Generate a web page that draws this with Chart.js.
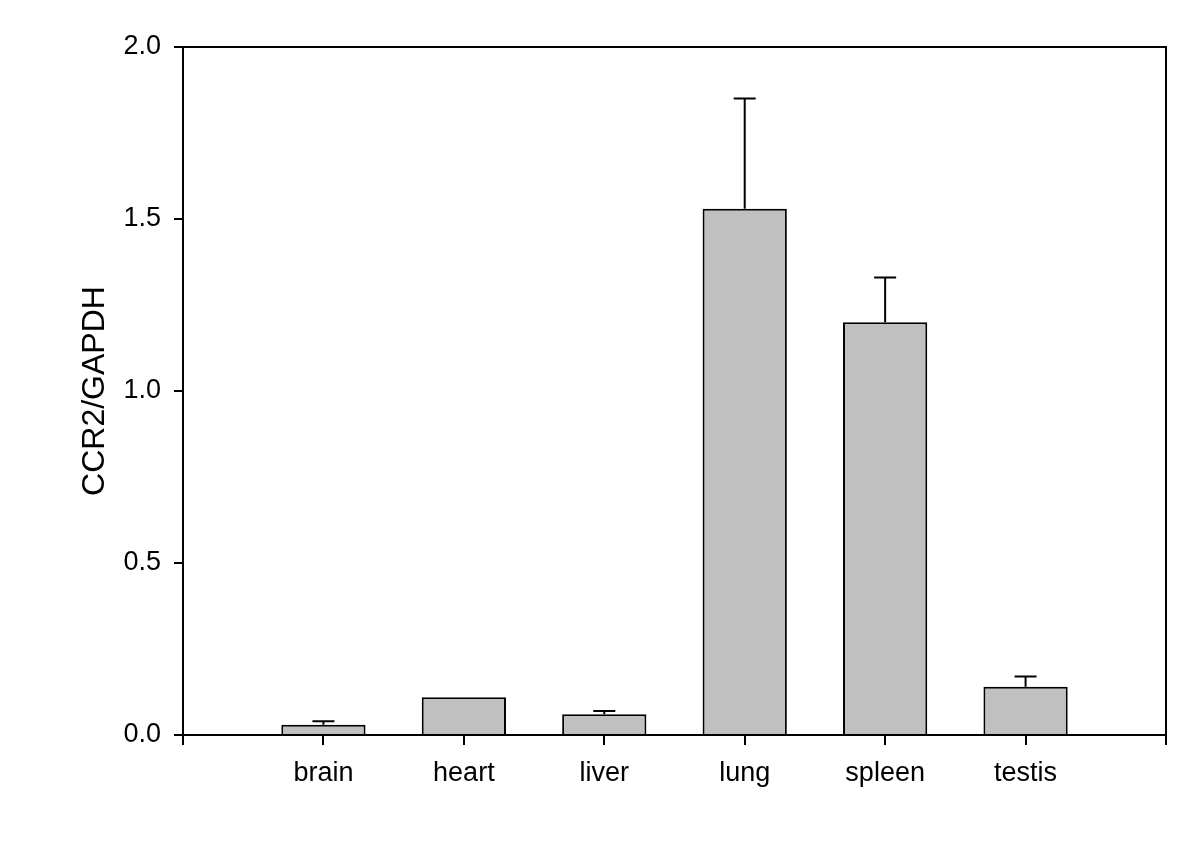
<!DOCTYPE html>
<html>
<head>
<meta charset="utf-8">
<script src="https://cdn.jsdelivr.net/npm/chart.js@4/dist/chart.umd.min.js"></script>
<style>
  html, body { margin: 0; padding: 0; background: #fff; }
  #wrap { width: 1200px; height: 867px; }
</style>
</head>
<body>
<div id="wrap"><canvas id="chart" width="1200" height="867"></canvas></div>
<script>
const tissues = ['brain', 'heart', 'liver', 'lung', 'spleen', 'testis'];
const ratio = [0.03, 0.11, 0.06, 1.53, 1.20, 0.14];
const errUpper = [0.04, null, 0.07, 1.85, 1.33, 0.17];
const yTicks = [0, 0.5, 1.0, 1.5, 2.0];

// empty slots at both ends so the bars sit between the frame edges
const labels = [''].concat(tissues, ['']);
const values = [null].concat(ratio, [null]);
const errors = [null].concat(errUpper, [null]);

const errorBars = {
    id: 'errorBars',
    afterDatasetsDraw(chart) {
        const ctx = chart.ctx;
        const y = chart.scales.y;
        const meta = chart.getDatasetMeta(0);
        ctx.save();
        ctx.strokeStyle = '#000';
        ctx.lineWidth = 2;
        meta.data.forEach((bar, i) => {
            if (errors[i] == null || values[i] == null) return;
            const top = y.getPixelForValue(errors[i]);
            ctx.beginPath();
            ctx.moveTo(bar.x, bar.y);
            ctx.lineTo(bar.x, top);
            ctx.moveTo(bar.x - 11, top);
            ctx.lineTo(bar.x + 11, top);
            ctx.stroke();
        });
        ctx.restore();
    },
    afterDraw(chart) {
        const {ctx, chartArea: a} = chart;
        ctx.save();
        ctx.strokeStyle = '#000';
        ctx.lineWidth = 2;
        ctx.beginPath();
        ctx.moveTo(a.left, a.top);
        ctx.lineTo(a.right, a.top);
        ctx.lineTo(a.right, a.bottom);
        ctx.stroke();
        ctx.restore();
    }
};

new Chart(document.getElementById('chart'), {
    type: 'bar',
    data: {
        labels: labels,
        datasets: [{
            data: values,
            backgroundColor: '#c0c0c0',
            borderColor: '#000',
            borderWidth: 2,
            barPercentage: 0.6,
            categoryPercentage: 1.0
        }]
    },
    options: {
        responsive: false,
        animation: false,
        layout: { padding: { top: 47, right: 34, left: 0, bottom: 0 } },
        plugins: { legend: { display: false }, tooltip: { enabled: false } },
        scales: {
            x: {
                offset: false,
                grid: { offset: false, drawOnChartArea: false, drawTicks: true, tickLength: 10, color: '#000', lineWidth: 2 },
                border: { display: true, color: '#000', width: 2 },
                ticks: {
                    color: '#000', padding: 12, maxRotation: 0, autoSkip: false,
                    font: { family: '"Liberation Sans", Arial, sans-serif', size: 27 }
                },
                afterFit(scale) { scale.height = 132; }
            },
            y: {
                min: 0,
                max: 2,
                afterBuildTicks(scale) { scale.ticks = yTicks.map(v => ({ value: v })); },
                grid: { drawOnChartArea: false, drawTicks: true, tickLength: 9, color: '#000', lineWidth: 2 },
                border: { display: true, color: '#000', width: 2 },
                ticks: {
                    color: '#000', padding: 13,
                    font: { family: '"Liberation Sans", Arial, sans-serif', size: 27 },
                    callback: v => Number(v).toFixed(1)
                },
                title: {
                    display: true,
                    text: 'CCR2/GAPDH',
                    color: '#000',
                    font: { family: '"Liberation Sans", Arial, sans-serif', size: 32 },
                    padding: { top: 76, bottom: 0 }
                },
                afterFit(scale) { scale.width = 183; }
            }
        }
    },
    plugins: [errorBars]
});
</script>
</body>
</html>
